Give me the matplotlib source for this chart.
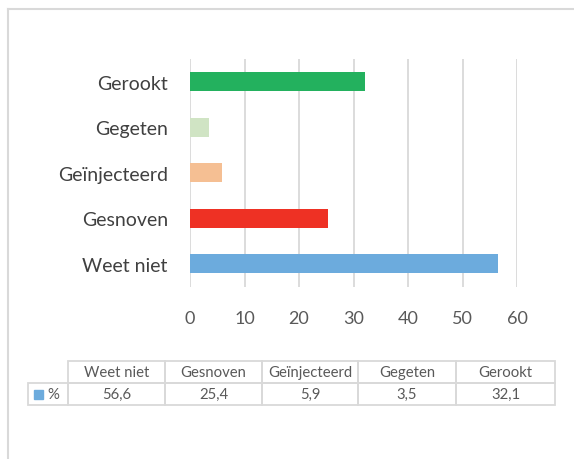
import matplotlib.pyplot as plt
from matplotlib.patches import Rectangle
from matplotlib.lines import Line2D

# data
categories = ["Weet niet", "Gesnoven", "Geïnjecteerd", "Gegeten", "Gerookt"]
values = [56.6, 25.4, 5.9, 3.5, 32.1]
bar_colors = ["#6CABDD", "#EE3124", "#F5BF93", "#D0E4C4", "#23B15E"]
x_ticks = [0, 10, 20, 30, 40, 50, 60]
series_name = "%"

plt.rcParams["font.family"] = ["Lato", "DejaVu Sans"]

W, H = 574, 460
fig = plt.figure(figsize=(W / 100, H / 100), dpi=100)

grid_col = "#D9D9D9"
text_col = "#595959"

# outer frame (open to the right and bottom)
fig.add_artist(Line2D([8 / W, 8 / W], [0, 1 - 10 / H], color=grid_col, lw=1.5))
fig.add_artist(Line2D([8 / W, 1], [1 - 10 / H, 1 - 10 / H], color=grid_col, lw=1.5))

# bar chart
ax = fig.add_axes([190 / W, 1 - 287.5 / H, 327 / W, 227.5 / H])
ypos = range(len(categories))
ax.barh(ypos, values, height=0.42, color=bar_colors, zorder=3)
ax.set_xlim(0, 60)
ax.set_ylim(-0.5, len(categories) - 0.5)
ax.set_xticks(x_ticks)
ax.set_yticks(list(ypos))
ax.set_yticklabels(categories)
ax.grid(axis="x", color=grid_col, lw=1.3, zorder=0)
for s in ax.spines.values():
    s.set_visible(False)
ax.tick_params(axis="x", length=0, pad=17, labelsize=13, labelcolor=text_col)
ax.tick_params(axis="y", length=0, pad=16, labelsize=14, labelcolor="#404040")

# data table below the chart
tab = fig.add_axes([0, 0, 1, 1])
tab.set_xlim(0, W)
tab.set_ylim(H, 0)
tab.axis("off")

col_edges = [68, 165, 262, 358, 456, 555]
row_edges = [362, 384, 406]
label_left = 28

def cell(x0, x1, y0, y1):
    tab.add_patch(Rectangle((x0, y0), x1 - x0, y1 - y0, fill=False,
                            edgecolor=grid_col, lw=1.3))

for i, cat in enumerate(categories):
    x0, x1 = col_edges[i], col_edges[i + 1]
    cell(x0, x1, row_edges[0], row_edges[1])
    cell(x0, x1, row_edges[1], row_edges[2])
    tab.text((x0 + x1) / 2, (row_edges[0] + row_edges[1]) / 2, cat,
             ha="center", va="center", fontsize=10.7, color=text_col)
    tab.text((x0 + x1) / 2, (row_edges[1] + row_edges[2]) / 2,
             f"{values[i]:.1f}".replace(".", ","),
             ha="center", va="center", fontsize=10.7, color=text_col)

cell(label_left, col_edges[0], row_edges[1], row_edges[2])
ymid = (row_edges[1] + row_edges[2]) / 2
tab.add_patch(Rectangle((34, ymid - 4.5), 9, 9, color=bar_colors[0]))
tab.text(47, ymid, series_name, ha="left", va="center", fontsize=10.7, color=text_col)

plt.savefig("out.png", dpi=100)
